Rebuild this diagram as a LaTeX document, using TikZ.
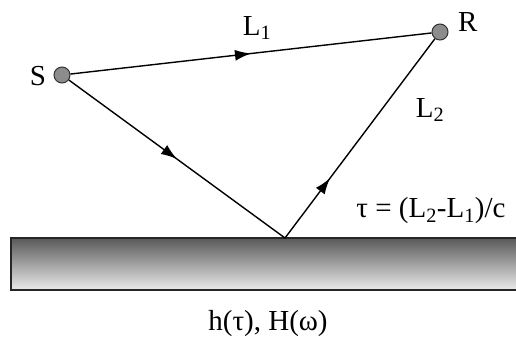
\documentclass[tikz,border=0pt]{standalone}
\usepackage{fontspec}
\setmainfont{Liberation Serif}
\usetikzlibrary{arrows.meta, positioning, decorations.markings}

\begin{document}
\begin{tikzpicture}[
  x=1pt, y=-1pt,
  font=\fontsize{29}{33}\selectfont,
  station/.style={circle, draw=black!80, fill=black!45, line width=1pt, minimum size=16pt, inner sep=0pt},
  ray/.style={line width=1.4pt, postaction={decorate}},
  midarr/.style={decoration={markings, mark=at position #1 with {\arrow{Latex[length=16pt, width=11pt]}}}},
  ground/.style={draw=black!85, line width=1.2pt, top color=black!65, bottom color=black!8},
]
\useasboundingbox (0,0) rectangle (516,341);
% reflecting surface
\shade[ground] (11,238) rectangle (522,290);
\coordinate (P) at (285,238);
\node[station] (S) at (62,75) {};
\node[station] (R) at (440,32) {};
\node[left=4pt of S, yshift=-1pt] (Slab) {S};
\node[right=6pt of R, yshift=10pt] (Rlab) {R};
\draw[ray, midarr=0.5] (S) -- (R);
\draw[ray, midarr=0.5] (S) -- (P);
\draw[ray, midarr=0.3] (P) -- (R);
\node (l1) at (257,28) {L\textsubscript{1}};
\node (l2) at (430,110) {L\textsubscript{2}};
\node (tau) at (431,211) {τ = (L\textsubscript{2}-L\textsubscript{1})/c};
\node (resp) at (268,324) {h(τ), H(ω)};
\end{tikzpicture}
\end{document}
